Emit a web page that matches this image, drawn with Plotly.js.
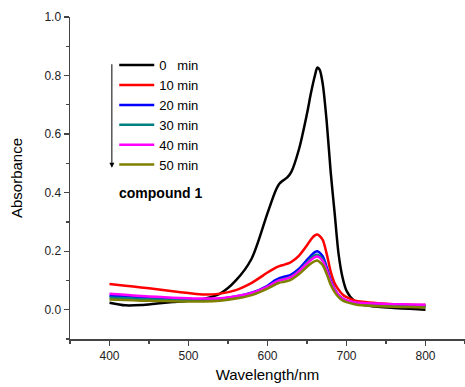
<!DOCTYPE html>
<html>
<head>
<meta charset="utf-8">
<script src="https://cdn.plot.ly/plotly-3.0.1.min.js"></script>
<style>html,body{margin:0;padding:0;background:#fff;}#chart{width:465px;height:387px;}</style>
</head>
<body>
<div id="chart"></div>
<script>
const wavelength = [400,420,440,460,480,500,520,540,560,580,600,610,615,620,625,630,640,650,655,660,663,666,670,675,680,685,690,695,700,710,720,740,760,780,800];
const abs0  = [0.024,0.015,0.016,0.021,0.026,0.031,0.038,0.055,0.100,0.175,0.330,0.405,0.430,0.442,0.452,0.470,0.550,0.670,0.740,0.800,0.827,0.820,0.770,0.640,0.470,0.330,0.190,0.110,0.065,0.030,0.018,0.010,0.006,0.003,0.000];
const abs10 = [0.088,0.082,0.076,0.070,0.063,0.057,0.052,0.055,0.067,0.092,0.127,0.143,0.149,0.153,0.157,0.163,0.185,0.220,0.240,0.254,0.257,0.252,0.238,0.190,0.130,0.090,0.068,0.052,0.043,0.032,0.027,0.022,0.019,0.017,0.016];
const abs20 = [0.048,0.045,0.042,0.040,0.037,0.035,0.034,0.037,0.045,0.058,0.082,0.101,0.108,0.112,0.115,0.120,0.140,0.170,0.185,0.197,0.200,0.195,0.182,0.145,0.100,0.070,0.050,0.038,0.031,0.024,0.020,0.017,0.015,0.013,0.012];
const abs30 = [0.042,0.040,0.037,0.035,0.033,0.032,0.031,0.034,0.042,0.054,0.077,0.094,0.101,0.105,0.108,0.113,0.133,0.161,0.176,0.186,0.188,0.184,0.172,0.137,0.094,0.066,0.047,0.035,0.029,0.021,0.017,0.014,0.012,0.011,0.010];
const abs40 = [0.055,0.051,0.047,0.044,0.041,0.039,0.038,0.039,0.046,0.057,0.079,0.094,0.100,0.103,0.107,0.112,0.132,0.158,0.170,0.180,0.182,0.178,0.166,0.135,0.095,0.068,0.050,0.038,0.032,0.026,0.023,0.021,0.019,0.018,0.017];
const abs50 = [0.035,0.033,0.031,0.030,0.029,0.028,0.028,0.031,0.038,0.050,0.072,0.086,0.092,0.095,0.098,0.103,0.122,0.147,0.158,0.166,0.168,0.163,0.152,0.122,0.085,0.060,0.043,0.032,0.026,0.019,0.015,0.012,0.010,0.009,0.008];
const seriesNames = ["0\u00a0\u00a0\u00a0min","10 min","20 min","30 min","40 min","50 min"];
const seriesValues = [abs0,abs10,abs20,abs30,abs40,abs50];
const colors = ["#000000","#ff0000","#0000ff","#008080","#ff00ff","#808000"];

const traces = seriesValues.map((v,i)=>({
  x: wavelength, y: v, name: seriesNames[i], type: 'scatter', mode: 'lines',
  line: {color: colors[i], width: 2.5, shape: 'spline', smoothing: 0.8}
}));

const axisFont = {family: 'Liberation Sans, Arial, sans-serif', size: 12, color: '#222'};
const layout = {
  width: 465, height: 387,
  margin: {l: 70, r: 0, t: 17, b: 48},
  paper_bgcolor: '#fff', plot_bgcolor: '#fff',
  showlegend: true,
  legend: {x: 0.112, y: 0.897, xanchor: 'left', yanchor: 'top', bgcolor: 'rgba(0,0,0,0)',
           font: {family: 'Liberation Sans, Arial, sans-serif', size: 13, color: '#000'},
           itemwidth: 35, tracegroupgap: 0},
  xaxis: {range: [350, 850], dtick: 100, tick0: 400, ticks: 'outside', ticklen: 5, tickwidth: 1.2,
          tickcolor: '#444', showline: true, linecolor: '#444', linewidth: 1.5, showgrid: false, zeroline: false,
          tickfont: axisFont,
          minor: {dtick: 50, tick0: 350, ticks: 'outside', ticklen: 3, tickcolor: '#444', showgrid: false},
          title: {text: 'Wavelength/nm', font: {family: 'Liberation Sans, Arial, sans-serif', size: 15, color: '#000'}, standoff: 7}},
  yaxis: {range: [-0.1, 1.0], dtick: 0.2, tick0: 0, tickformat: '.1f', ticks: 'outside', ticklen: 5, tickwidth: 1.2,
          tickcolor: '#444', showline: true, linecolor: '#444', linewidth: 1.5, showgrid: false, zeroline: false,
          tickfont: axisFont,
          minor: {dtick: 0.1, tick0: 0, ticks: 'outside', ticklen: 3, tickcolor: '#444', showgrid: false},
          title: {text: 'Absorbance', font: {family: 'Liberation Sans, Arial, sans-serif', size: 15, color: '#000'}, standoff: 18}},
  annotations: [
    {x: 403, y: 0.485, xref: 'x', yref: 'y', ax: 0, ay: -105, axref: 'pixel', ayref: 'pixel',
     showarrow: true, arrowhead: 2, arrowsize: 1, arrowwidth: 1, arrowcolor: '#000', text: ''},
    {x: 464, y: 0.40, xref: 'x', yref: 'y', showarrow: false, text: '<b>compound 1</b>',
     font: {family: 'Liberation Sans, Arial, sans-serif', size: 14, color: '#000'}}
  ]
};
Plotly.newPlot('chart', traces, layout, {displayModeBar: false, staticPlot: true});
</script>
</body>
</html>
